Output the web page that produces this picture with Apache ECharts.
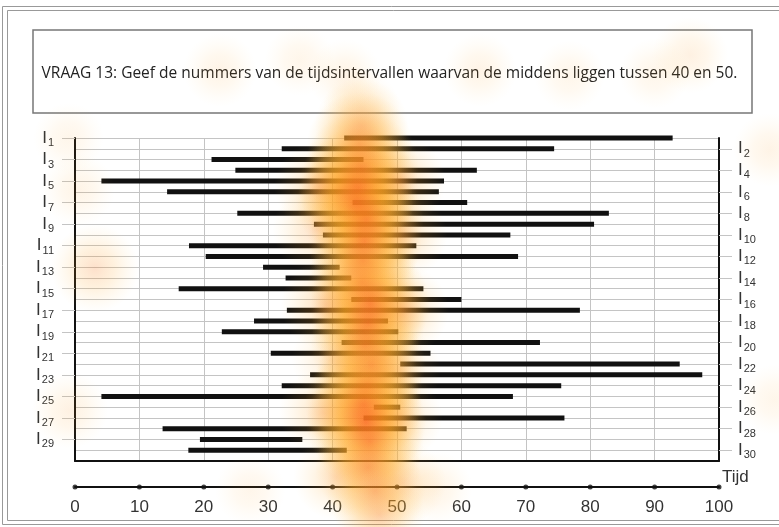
<!DOCTYPE html>
<html>
<head>
<meta charset="utf-8">
<script src="https://cdn.jsdelivr.net/npm/echarts@6/dist/echarts.min.js"></script>
<style>
  html, body { margin: 0; padding: 0; background: #fff; }
  #chart { width: 779px; height: 527px; }
</style>
</head>
<body>
<div id="chart"></div>
<script>
// begin en eind van elk tijdsinterval I1..I30
const starts = [41.8, 32.1, 21.2, 24.9, 4.1, 14.3, 43.1, 25.2, 37.1, 38.5,
  17.7, 20.3, 29.2, 32.7, 16.1, 42.9, 32.9, 27.8, 22.8, 41.4,
  30.4, 50.5, 36.5, 32.1, 4.1, 46.4, 44.8, 13.6, 19.4, 17.6];
const ends = [92.8, 74.4, 44.8, 62.4, 57.3, 56.5, 60.9, 82.9, 80.6, 67.6,
  53.0, 68.8, 41.1, 42.9, 54.1, 60.0, 78.4, 48.6, 50.2, 72.2,
  55.2, 93.9, 97.4, 75.5, 68.0, 50.5, 76.0, 51.5, 35.3, 42.2];
const rowLabels = starts.map((_, i) => 'I' + (i + 1)).concat(['']);
const xTicks = [0, 10, 20, 30, 40, 50, 60, 70, 80, 90, 100];

// kijkdata (heatmap): [tijd, rij, gewicht]
const heatPoints = [
  // kolom rond 40-50
  [44.5, -1.8, 0.25], [44.5, -0.2, 0.55], [44.2, 1.6, 0.75], [44.5, 3.8, 0.9],
  [44.0, 5.6, 1.0], [43.5, 7.0, 0.95], [45.3, 8.6, 0.9], [45.0, 10.6, 0.9],
  [44.7, 12.4, 0.8], [44.5, 14.4, 0.8], [45.8, 16.4, 1.0], [45.5, 18.2, 0.9],
  [45.0, 20.2, 0.8], [46.0, 22.1, 0.8], [45.5, 23.9, 0.8], [44.8, 25.8, 0.95],
  [45.2, 27.4, 1.0], [45.8, 29.2, 0.8], [45.5, 31.6, 0.75], [46.6, 33.8, 0.65],
  [47.3, 36.0, 0.5],
  // verbreding van de kolom
  [38.0, 5.5, 0.5], [50.5, 5.0, 0.5], [37.5, 9.5, 0.45], [51.0, 10.0, 0.45],
  [39.0, 16.5, 0.5], [51.0, 17.0, 0.5], [38.5, 26.5, 0.45], [50.5, 27.0, 0.4],
  [40.0, 21.5, 0.35], [50.5, 22.5, 0.35], [40.5, 32.5, 0.4], [51.0, 33.0, 0.4],
  // overige fixaties
  [3.1, 13.1, 0.45], [0.5, 5.8, 0.2], [-0.8, 26.3, 0.25], [-1.0, 1.0, 0.15],
  [22.5, -5.3, 0.2], [34.9, -6.2, 0.15], [41.9, -4.8, 0.2], [62.9, -5.3, 0.2],
  [76.8, -4.8, 0.15], [95.5, -6.7, 0.25], [90.0, -5.0, 0.15],
  [107.9, 2.1, 0.2], [108.6, 25.3, 0.15], [27.2, 33.7, 0.15], [56.0, 33.5, 0.2]
];

const titleText = 'VRAAG 13: Geef de nummers van de tijdsintervallen waarvan de middens liggen tussen 40 en 50.';

function heatColor(w) {
  const g = Math.round(180 - 125 * w);
  const b = Math.round(45 - 20 * w);
  const a = 0.08 + 0.72 * Math.pow(w, 1.5);
  return {
    type: 'radial', x: 0.5, y: 0.5, r: 0.5,
    colorStops: [
      { offset: 0, color: `rgba(248,${g},${b},${a})` },
      { offset: 0.45, color: `rgba(255,160,25,${a * 0.6})` },
      { offset: 1, color: 'rgba(255,200,90,0)' }
    ]
  };
}

const chart = echarts.init(document.getElementById('chart'));

const option = {
  backgroundColor: '#fff',
  animation: false,
  textStyle: { fontFamily: 'Liberation Sans' },
  title: {
    text: titleText,
    left: 'center',
    top: 61,
    z: 5,
    textStyle: { fontFamily: 'Open Sans', fontSize: 15.5, fontWeight: 'normal', color: '#222' }
  },
  graphic: [
    { type: 'rect', z: 0, shape: { x: 2.5, y: 6.5, width: 800, height: 518 }, style: { fill: 'none', stroke: '#999', lineWidth: 1 } },
    { type: 'rect', z: 0, shape: { x: 7.5, y: 10.5, width: 800, height: 510 }, style: { fill: 'none', stroke: '#999', lineWidth: 1 } },
    { type: 'rect', z: 0, shape: { x: 33, y: 30, width: 719, height: 83 }, style: { fill: '#fff', stroke: '#777', lineWidth: 1.5 } }
  ],
  grid: [
    { left: 75, right: 60, top: 138, bottom: 66, outerBoundsMode: 'none' },
    { left: 75, right: 60, top: 482, height: 10, outerBoundsMode: 'none' }
  ],
  xAxis: [
    {
      gridIndex: 0, type: 'value', min: 0, max: 100, interval: 10,
      axisLine: { show: true, onZero: false, lineStyle: { color: '#111', width: 2 } },
      axisTick: { show: false }, axisLabel: { show: false },
      splitLine: { show: true, lineStyle: { color: '#c4c4c4', width: 1 } },
      name: 'Tijd', nameLocation: 'end', nameGap: 3, nameMoveOverlap: false,
      nameTextStyle: { fontSize: 17, color: '#333', align: 'left', verticalAlign: 'top', padding: [8, 0, 0, 0] }
    },
    {
      gridIndex: 1, type: 'value', min: 0, max: 100, interval: 10,
      axisLine: { show: true, onZero: true, lineStyle: { color: '#111', width: 2 } },
      axisTick: { show: false }, splitLine: { show: false },
      axisLabel: { fontSize: 17, color: '#333', margin: 7 }
    }
  ],
  yAxis: [
    {
      gridIndex: 0, type: 'value', inverse: true, min: 1, max: 31, interval: 1,
      position: 'left',
      axisLine: { show: true, lineStyle: { color: '#111', width: 2 } },
      axisTick: { show: false }, axisLabel: { show: false },
      splitLine: { show: true, lineStyle: { color: '#c4c4c4', width: 1 } }
    },
    {
      gridIndex: 0, type: 'category', inverse: true, boundaryGap: false, position: 'left',
      data: rowLabels,
      axisLine: { show: false },
      axisTick: { show: true, length: 13, interval: (i) => i % 2 === 0 && i < 30, lineStyle: { color: '#c4c4c4' } },
      axisLabel: {
        interval: (i) => i % 2 === 0 && i < 30, margin: 21,
        formatter: (v) => v ? '{i|I}{s|' + v.slice(1) + '}' : '',
        rich: {
          i: { fontSize: 17, color: '#333' },
          s: { fontSize: 11, color: '#333', padding: [10, 0, 0, 1] }
        }
      },
      splitLine: { show: false }
    },
    {
      gridIndex: 0, type: 'category', inverse: true, boundaryGap: false, position: 'right',
      data: rowLabels,
      axisLine: { show: true, lineStyle: { color: '#111', width: 2 } },
      axisTick: { show: true, length: 13, interval: (i) => i % 2 === 1, lineStyle: { color: '#c4c4c4' } },
      axisLabel: {
        interval: (i) => i % 2 === 1, margin: 19,
        formatter: (v) => v ? '{i|I}{s|' + v.slice(1) + '}' : '',
        rich: {
          i: { fontSize: 17, color: '#333' },
          s: { fontSize: 11, color: '#333', padding: [10, 0, 0, 1] }
        }
      },
      splitLine: { show: false }
    },
    { gridIndex: 1, type: 'value', min: -1, max: 1, show: false }
  ],
  series: [
    {
      type: 'custom',
      xAxisIndex: 0, yAxisIndex: 0, z: 3,
      data: starts.map((s, i) => [s, ends[i], i + 1]),
      encode: { x: [0, 1], y: 2 },
      renderItem: (params, api) => {
        const a = api.coord([api.value(0), api.value(2)]);
        const b = api.coord([api.value(1), api.value(2)]);
        return {
          type: 'rect',
          shape: { x: a[0], y: a[1] - 2.5, width: b[0] - a[0], height: 5 },
          style: { fill: '#111' }
        };
      }
    },
    {
      type: 'scatter',
      xAxisIndex: 1, yAxisIndex: 3, z: 3,
      symbolSize: 5,
      itemStyle: { color: '#111' },
      data: xTicks.map((t) => [t, 0])
    },
    {
      type: 'scatter',
      xAxisIndex: 0, yAxisIndex: 0, z: 20, clip: false, silent: true,
      data: heatPoints.map((p) => ({
        value: p,
        symbolSize: 62 + 58 * p[2],
        itemStyle: { color: heatColor(p[2]) }
      }))
    }
  ]
};

chart.setOption(option);
window.addEventListener('resize', () => {
  chart.resize();
});
</script>
</body>
</html>
